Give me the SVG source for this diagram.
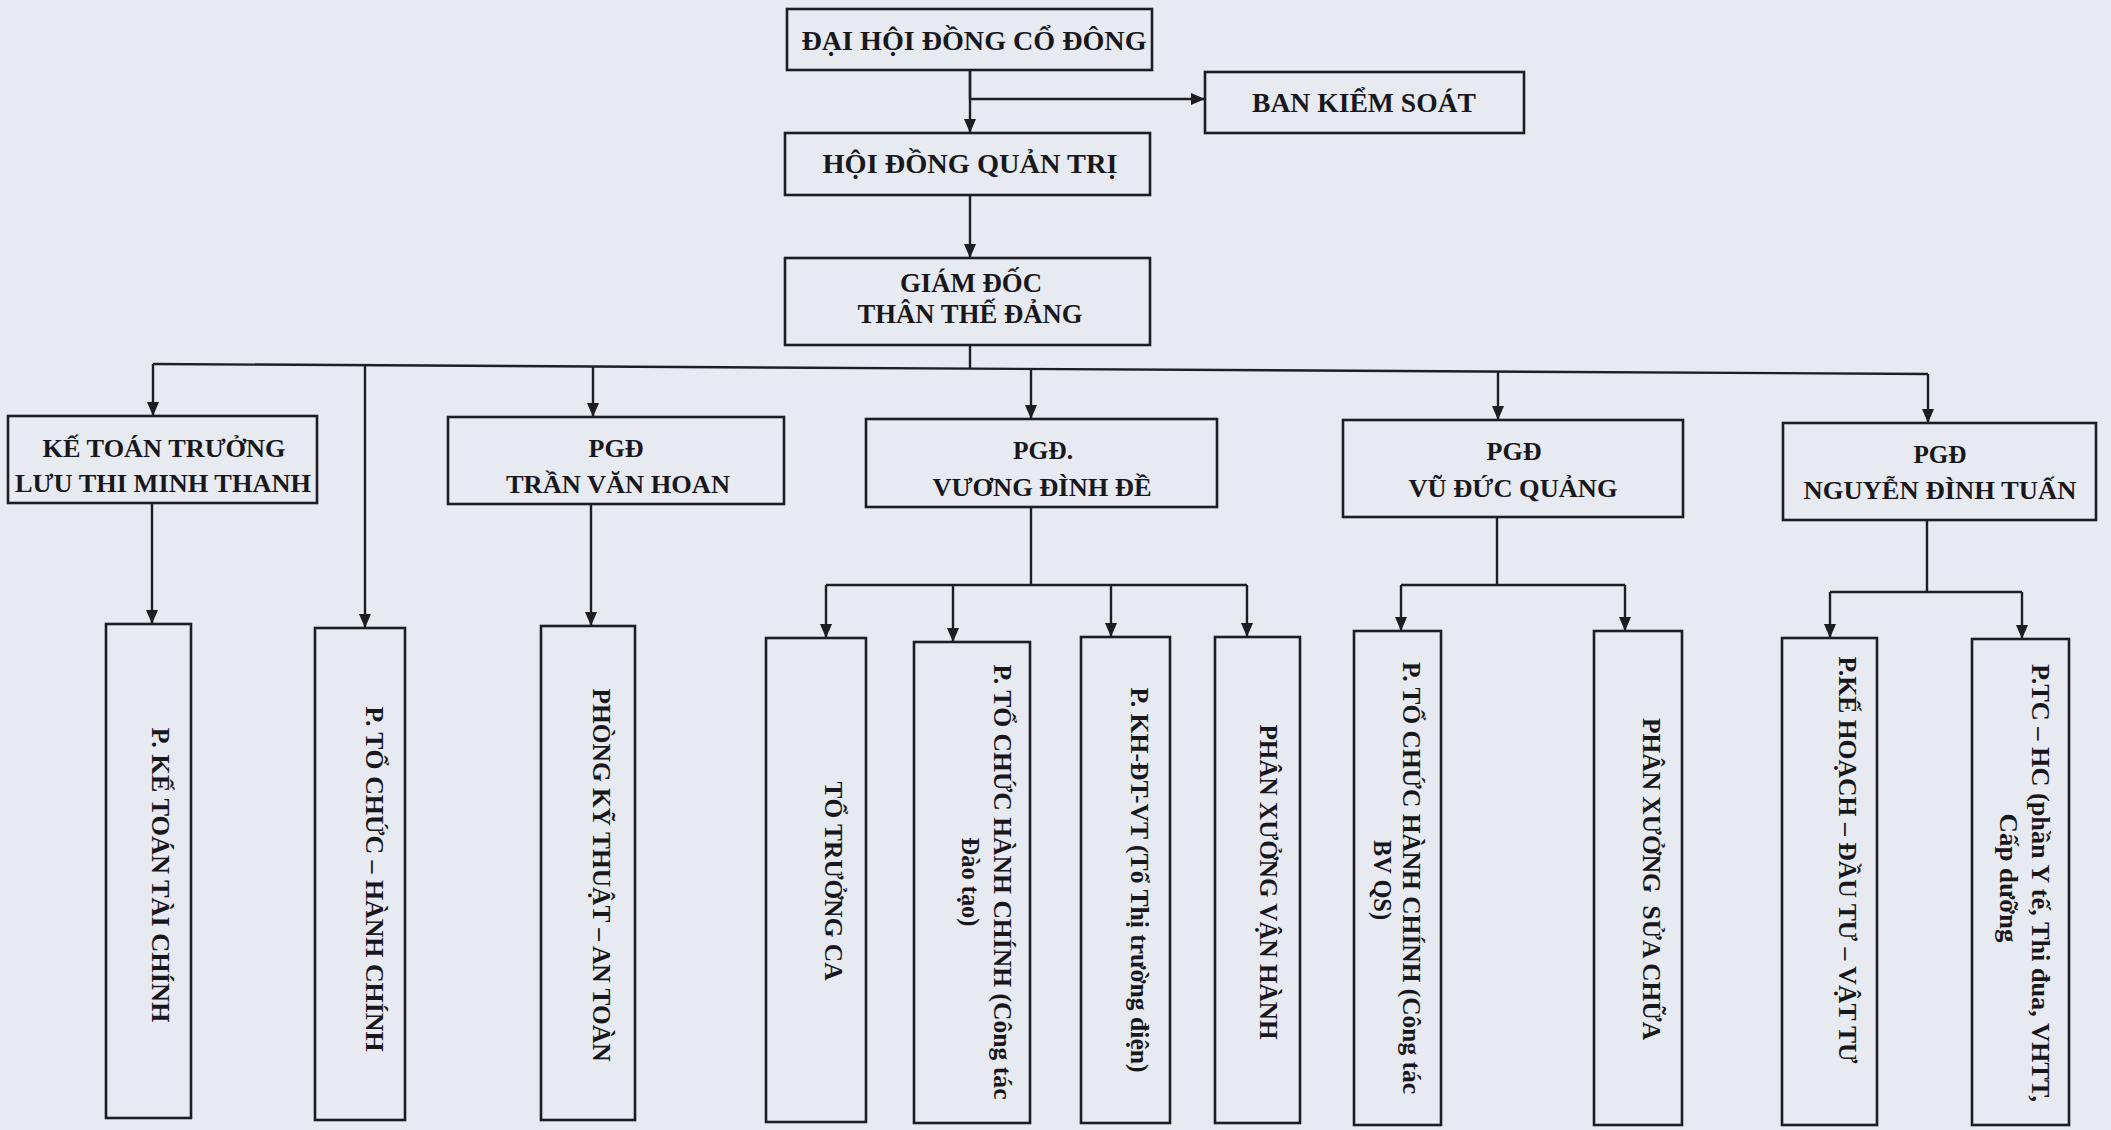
<svg xmlns="http://www.w3.org/2000/svg" width="2111" height="1130" viewBox="0 0 2111 1130">
<defs>
<marker id="arr" markerUnits="userSpaceOnUse" markerWidth="14" markerHeight="12" refX="14" refY="6" orient="auto">
<path d="M0,0 L14,6 L0,12 z" fill="#1d1d22"/>
</marker>
<style>
.bx{fill:none;stroke:#1d1d22;stroke-width:2.6}
.ln{fill:none;stroke:#1d1d22;stroke-width:2.4}
.ar{fill:none;stroke:#1d1d22;stroke-width:2.4;marker-end:url(#arr)}
.t1{font-family:"Liberation Serif","Times New Roman",serif;font-weight:bold;font-size:28px;fill:#18181c;text-anchor:middle}
.t2{font-family:"Liberation Serif","Times New Roman",serif;font-weight:bold;font-size:25px;fill:#18181c;text-anchor:middle}
.t3{font-family:"Liberation Serif","Times New Roman",serif;font-weight:bold;font-size:26px;fill:#18181c;text-anchor:middle;white-space:pre}
</style>
</defs>
<rect width="2111" height="1130" fill="#e8eaf1"/>

<g id="connectors">
<line class="ln" x1="970" y1="70" x2="970" y2="99"/>
<line class="ar" x1="970" y1="70" x2="970" y2="133"/>
<line class="ar" x1="970" y1="99" x2="1205" y2="99"/>
<line class="ar" x1="970" y1="195" x2="970" y2="258"/>
<line class="ln" x1="970" y1="345" x2="970" y2="369"/>
<line class="ln" x1="153" y1="364" x2="1928" y2="374"/>
<line class="ar" x1="153" y1="364" x2="153" y2="416"/>
<line class="ar" x1="365" y1="365" x2="365" y2="628"/>
<line class="ar" x1="593" y1="366.5" x2="593" y2="417"/>
<line class="ar" x1="1031" y1="369" x2="1031" y2="419"/>
<line class="ar" x1="1498" y1="371.6" x2="1498" y2="420"/>
<line class="ar" x1="1928" y1="374" x2="1928" y2="423"/>
<line class="ar" x1="152" y1="503" x2="152" y2="624"/>
<line class="ar" x1="591" y1="504" x2="591" y2="626"/>
<line class="ln" x1="1031" y1="507" x2="1031" y2="585"/>
<line class="ln" x1="826" y1="585" x2="1247" y2="585"/>
<line class="ar" x1="826" y1="585" x2="826" y2="638"/>
<line class="ar" x1="953" y1="585" x2="953" y2="642"/>
<line class="ar" x1="1111" y1="585" x2="1111" y2="637"/>
<line class="ar" x1="1247" y1="585" x2="1247" y2="637"/>
<line class="ln" x1="1497" y1="517" x2="1497" y2="585"/>
<line class="ln" x1="1401" y1="585" x2="1625" y2="585"/>
<line class="ar" x1="1401" y1="585" x2="1401" y2="631"/>
<line class="ar" x1="1625" y1="585" x2="1625" y2="631"/>
<line class="ln" x1="1927" y1="520" x2="1927" y2="592"/>
<line class="ln" x1="1830" y1="592" x2="2022" y2="592"/>
<line class="ar" x1="1830" y1="592" x2="1830" y2="638"/>
<line class="ar" x1="2022" y1="592" x2="2022" y2="639"/>
</g>

<g id="dhdcd"><rect class="bx" x="787" y="9" width="365" height="61"/><text class="t1" x="974" y="50" textLength="345" lengthAdjust="spacingAndGlyphs">ĐẠI HỘI ĐỒNG CỔ ĐÔNG</text></g>
<g id="bks"><rect class="bx" x="1205" y="72" width="319" height="61"/><text class="t1" x="1364" y="112" textLength="224" lengthAdjust="spacingAndGlyphs">BAN KIỂM SOÁT</text></g>
<g id="hdqt"><rect class="bx" x="785" y="133" width="365" height="62"/><text class="t1" x="970" y="173" textLength="295" lengthAdjust="spacingAndGlyphs">HỘI ĐỒNG QUẢN TRỊ</text></g>
<g id="gd"><rect class="bx" x="785" y="258" width="365" height="87"/><text class="t1" x="971" y="292" textLength="142" lengthAdjust="spacingAndGlyphs">GIÁM ĐỐC</text><text class="t1" x="970" y="323" textLength="225" lengthAdjust="spacingAndGlyphs">THÂN THẾ ĐẢNG</text></g>

<g id="ktt"><rect class="bx" x="8" y="416" width="309" height="87"/><text class="t2" x="164" y="457" textLength="243" lengthAdjust="spacingAndGlyphs">KẾ TOÁN TRƯỞNG</text><text class="t2" x="163" y="492" textLength="296" lengthAdjust="spacingAndGlyphs">LƯU THI MINH THANH</text></g>
<g id="pgd-hoan"><rect class="bx" x="448" y="417" width="336" height="87"/><text class="t2" x="616" y="457" textLength="55" lengthAdjust="spacingAndGlyphs">PGĐ</text><text class="t2" x="618" y="493" textLength="224" lengthAdjust="spacingAndGlyphs">TRẦN VĂN HOAN</text></g>
<g id="pgd-vuong"><rect class="bx" x="866" y="419" width="351" height="88"/><text class="t2" x="1043" y="459" textLength="60" lengthAdjust="spacingAndGlyphs">PGĐ.</text><text class="t2" x="1042" y="496" textLength="219" lengthAdjust="spacingAndGlyphs">VƯƠNG ĐÌNH ĐỀ</text></g>
<g id="pgd-vu"><rect class="bx" x="1343" y="420" width="340" height="97"/><text class="t2" x="1514" y="460" textLength="55" lengthAdjust="spacingAndGlyphs">PGĐ</text><text class="t2" x="1513" y="497" textLength="209" lengthAdjust="spacingAndGlyphs">VŨ ĐỨC QUẢNG</text></g>
<g id="pgd-nguyen"><rect class="bx" x="1783" y="423" width="313" height="97"/><text class="t2" x="1940" y="463" textLength="53" lengthAdjust="spacingAndGlyphs">PGĐ</text><text class="t2" x="1940" y="499" textLength="273" lengthAdjust="spacingAndGlyphs">NGUYỄN ĐÌNH TUẤN</text></g>

<g id="p-ketoan"><rect class="bx" x="106" y="624" width="85" height="494"/><text class="t3" transform="translate(152,875) rotate(90)" textLength="295" lengthAdjust="spacingAndGlyphs">P. KẾ TOÁN TÀI CHÍNH</text></g>
<g id="p-tochuc"><rect class="bx" x="315" y="628" width="90" height="492"/><text class="t3" transform="translate(366,879) rotate(90)" textLength="345" lengthAdjust="spacingAndGlyphs">P. TỔ CHỨC – HÀNH CHÍNH</text></g>
<g id="p-kythuat"><rect class="bx" x="541" y="626" width="94" height="494"/><text class="t3" transform="translate(593,875) rotate(90)" textLength="373" lengthAdjust="spacingAndGlyphs">PHÒNG KỸ THUẬT – AN TOÀN</text></g>
<g id="to-truong-ca"><rect class="bx" x="766" y="638" width="100" height="484"/><text class="t3" transform="translate(825,881) rotate(90)" textLength="199" lengthAdjust="spacingAndGlyphs">TỔ TRƯỞNG CA</text></g>
<g id="p-tchc-daotao"><rect class="bx" x="914" y="642" width="116" height="481"/><text class="t3" transform="translate(994,882) rotate(90)" textLength="435" lengthAdjust="spacingAndGlyphs">P. TỔ CHỨC HÀNH CHÍNH (Công tác</text><text class="t3" transform="translate(962,882) rotate(90)" textLength="89" lengthAdjust="spacingAndGlyphs">Đào tạo)</text></g>
<g id="p-khdtvt"><rect class="bx" x="1081" y="637" width="89" height="486"/><text class="t3" transform="translate(1131,880) rotate(90)" textLength="385" lengthAdjust="spacingAndGlyphs">P. KH-ĐT-VT (Tổ Thị trường điện)</text></g>
<g id="px-vanhanh"><rect class="bx" x="1215" y="637" width="85" height="486"/><text class="t3" transform="translate(1260,882) rotate(90)" textLength="315" lengthAdjust="spacingAndGlyphs">PHÂN XƯỞNG VẬN HÀNH</text></g>
<g id="p-tchc-bvqs"><rect class="bx" x="1354" y="631" width="87" height="494"/><text class="t3" transform="translate(1403,878) rotate(90)" textLength="432" lengthAdjust="spacingAndGlyphs">P. TỔ CHỨC HÀNH CHÍNH (Công tác</text><text class="t3" transform="translate(1374,880) rotate(90)" textLength="80" lengthAdjust="spacingAndGlyphs">BV QS)</text></g>
<g id="px-suachua"><rect class="bx" x="1594" y="631" width="88" height="494"/><text class="t3" transform="translate(1643,879) rotate(90)" textLength="322" lengthAdjust="spacingAndGlyphs">PHÂN XƯỞNG  SỬA CHỮA</text></g>
<g id="p-kehoach"><rect class="bx" x="1782" y="638" width="95" height="487"/><text class="t3" transform="translate(1839,860) rotate(90)" textLength="407" lengthAdjust="spacingAndGlyphs">P.KẾ HOẠCH – ĐẦU TƯ – VẬT TƯ</text></g>
<g id="p-tchc-yte"><rect class="bx" x="1972" y="639" width="97" height="486"/><text class="t3" transform="translate(2032,883) rotate(90)" textLength="438" lengthAdjust="spacingAndGlyphs">P.TC – HC (phần Y tế, Thi đua, VHTT,</text><text class="t3" transform="translate(2000,878) rotate(90)" textLength="129" lengthAdjust="spacingAndGlyphs">Cấp dưỡng</text></g>
</svg>
